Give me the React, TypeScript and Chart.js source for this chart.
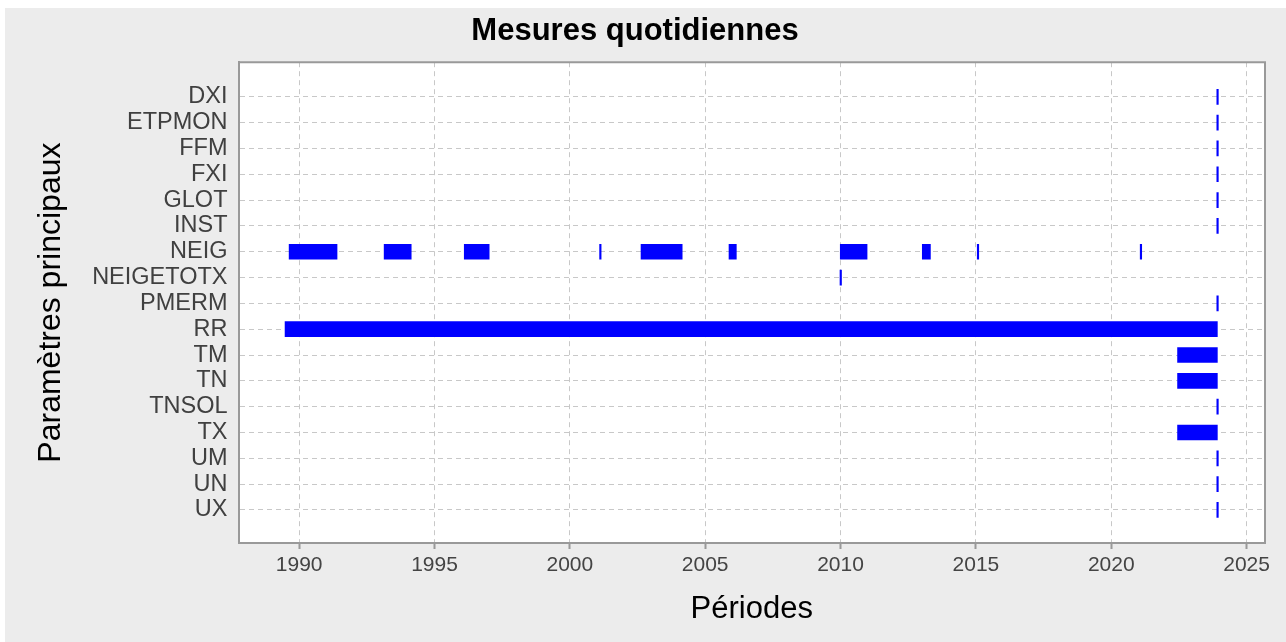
import React, { useEffect, useRef } from "react";
import { Chart, registerables } from "chart.js";

Chart.register(...registerables);

const TITLE = "Mesures quotidiennes";
const X_TITLE = "Périodes";
const Y_TITLE = "Paramètres principaux";

const PARAMS = [
  "DXI", "ETPMON", "FFM", "FXI", "GLOT", "INST", "NEIG", "NEIGETOTX",
  "PMERM", "RR", "TM", "TN", "TNSOL", "TX", "UM", "UN", "UX",
];

const YEAR_TICKS = [1990, 1995, 2000, 2005, 2010, 2015, 2020, 2025];

// Measurement periods (decimal years)
const PERIOD_PARAM = [
  "DXI", "ETPMON", "FFM", "FXI", "GLOT", "INST",
  "NEIG", "NEIG", "NEIG", "NEIG", "NEIG", "NEIG", "NEIG", "NEIG", "NEIG", "NEIG",
  "NEIGETOTX", "PMERM", "RR", "TM", "TN", "TNSOL", "TX", "UM", "UN", "UX",
];
const PERIOD_START = [
  2023.9, 2023.9, 2023.9, 2023.9, 2023.9, 2023.9,
  1989.63, 1993.14, 1996.1, 2001.1, 2002.63, 2005.88, 2009.99, 2013.02, 2015.05, 2021.07,
  2009.98, 2023.9, 1989.48, 2022.45, 2022.45, 2023.9, 2022.45, 2023.9, 2023.9, 2023.9,
];
const PERIOD_END = [
  2023.95, 2023.95, 2023.95, 2023.95, 2023.95, 2023.95,
  1991.4, 1994.14, 1997.02, 2001.14, 2004.15, 2006.15, 2010.98, 2013.32, 2015.09, 2021.11,
  2010.02, 2023.95, 2023.92, 2023.92, 2023.92, 2023.95, 2023.92, 2023.95, 2023.95, 2023.95,
];

const X_MIN = 1987.76;
const X_MAX = 2025.68;
const Y_MIN = -1.34;
const Y_MAX = 17.28;

const FONT = "'Liberation Sans', Arial, Helvetica, sans-serif";

export default function App() {
  const ref = useRef<HTMLCanvasElement | null>(null);

  useEffect(() => {
    if (!ref.current) return;
    Chart.defaults.font.family = FONT;

    const areaPlugin = {
      id: "areaPlugin",
      beforeDraw(chart: any) {
        const { ctx, chartArea: a } = chart;
        ctx.save();
        ctx.fillStyle = "#ffffff";
        ctx.fillRect(a.left, a.top, a.right - a.left, a.bottom - a.top);
        ctx.restore();
      },
      afterDraw(chart: any) {
        const { ctx, chartArea: a } = chart;
        ctx.save();
        ctx.strokeStyle = "#999999";
        ctx.lineWidth = 2;
        ctx.beginPath();
        ctx.moveTo(a.left, a.top);
        ctx.lineTo(a.right, a.top);
        ctx.lineTo(a.right, a.bottom);
        ctx.stroke();
        ctx.restore();
      },
    };

    const data = PERIOD_START.map((s, i) => ({
      x: [s, PERIOD_END[i]],
      y: PARAMS.indexOf(PERIOD_PARAM[i]),
    }));

    const chart = new Chart(ref.current, {
      type: "bar",
      data: {
        datasets: [
          {
            label: "Périodes",
            data: data as any,
            backgroundColor: "#0000ff",
            borderWidth: 0,
            barThickness: 15,
            minBarLength: 1.5,
          } as any,
        ],
      },
      plugins: [areaPlugin],
      options: {
        indexAxis: "y",
        animation: false,
        responsive: false,
        maintainAspectRatio: false,
        layout: { padding: { left: 0, right: 21, top: 0, bottom: 0 } },
        plugins: {
          legend: { display: false },
          tooltip: { enabled: false },
          title: {
            display: true,
            text: TITLE,
            color: "#000000",
            font: { size: 31, weight: "bold", family: FONT },
            padding: { top: 5, bottom: 12 },
          },
        },
        scales: {
          x: {
            type: "linear",
            position: "bottom",
            min: X_MIN,
            max: X_MAX,
            bounds: "data",
            offset: false,
            afterBuildTicks: (s: any) => {
              s.ticks = YEAR_TICKS.map((v) => ({ value: v }));
            },
            afterFit: (s: any) => {
              s.height = 99;
            },
            ticks: {
              color: "#444444",
              font: { size: 21, family: FONT },
              padding: 4,
              maxRotation: 0,
              autoSkip: false,
              callback: (v: any) => String(v),
            },
            grid: {
              offset: false,
              color: "#c8c8c8",
              lineWidth: 1,
              drawTicks: true,
              tickLength: 6,
              tickColor: "#999999",
              tickWidth: 2,
              tickBorderDash: [],
            } as any,
            border: { display: true, color: "#999999", width: 2, dash: [5, 4] },
            title: {
              display: true,
              text: X_TITLE,
              color: "#000000",
              font: { size: 31, family: FONT },
              padding: { top: 0, bottom: 14 },
            },
          },
          y: {
            type: "linear",
            position: "left",
            min: Y_MIN,
            max: Y_MAX,
            reverse: true,
            bounds: "data",
            offset: false,
            afterBuildTicks: (s: any) => {
              s.ticks = PARAMS.map((_, i) => ({ value: i }));
            },
            afterFit: (s: any) => {
              s.width = 233.5;
            },
            ticks: {
              color: "#404040",
              font: { size: 23.5, family: FONT },
              padding: 11,
              autoSkip: false,
              callback: (v: any) => PARAMS[Math.round(Number(v))] ?? "",
            },
            grid: {
              offset: false,
              color: "#c8c8c8",
              lineWidth: 1,
              drawTicks: false,
            },
            border: { display: true, color: "#999999", width: 2, dash: [5, 4] },
            title: {
              display: true,
              text: Y_TITLE,
              color: "#000000",
              font: { size: 32, family: FONT },
              padding: { top: 27, bottom: 0 },
            },
          },
        },
      } as any,
    });

    return () => chart.destroy();
  }, []);

  return (
    <div
      style={{
        position: "fixed",
        left: 5,
        top: 8,
        width: 1281,
        height: 634,
        background: "#ececec",
      }}
    >
      <canvas ref={ref} width={1281} height={634} style={{ display: "block" }} />
    </div>
  );
}
